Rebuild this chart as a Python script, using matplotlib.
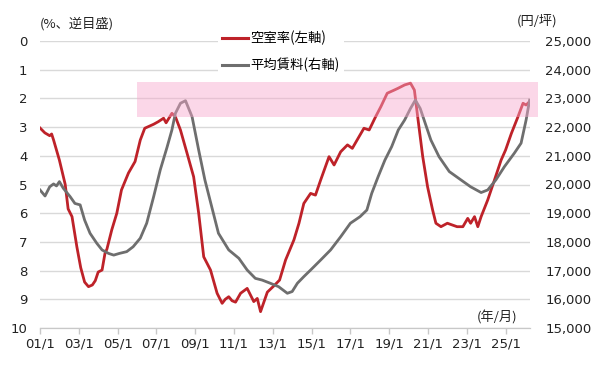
import numpy as np
import matplotlib
matplotlib.use("Agg")
import matplotlib.pyplot as plt
from matplotlib.patches import Rectangle
from matplotlib.lines import Line2D

plt.rcParams['font.family'] = ['DejaVu Sans', 'Noto Sans CJK JP']
jp = ['Noto Sans CJK JP', 'DejaVu Sans']

# 空室率 (%), x = 年 (小数)
vac_x = [2001.0, 2001.25, 2001.5, 2001.6, 2001.7, 2002.0, 2002.3, 2002.45, 2002.65, 2002.9,
         2003.1, 2003.3, 2003.5, 2003.7, 2003.85, 2004.0, 2004.2, 2004.35, 2004.45, 2004.7,
         2004.96, 2005.2, 2005.56, 2005.9, 2006.17, 2006.4, 2006.86, 2007.1, 2007.37, 2007.5,
         2007.8, 2007.98, 2008.24, 2008.58, 2008.92, 2009.18, 2009.44, 2009.79, 2010.13, 2010.39,
         2010.55, 2010.73, 2010.9, 2011.08, 2011.34, 2011.68, 2012.02, 2012.2, 2012.37, 2012.72,
         2013.06, 2013.35, 2013.66, 2014.09, 2014.35, 2014.6, 2014.95, 2015.2, 2015.47, 2015.9,
         2016.16, 2016.5, 2016.85, 2017.1, 2017.45, 2017.7, 2017.97, 2018.3, 2018.57, 2018.9,
         2019.26, 2019.45, 2019.8, 2020.1, 2020.3, 2020.47, 2020.73, 2020.98, 2021.24, 2021.41,
         2021.67, 2022.0, 2022.5, 2022.8, 2023.05, 2023.2, 2023.4, 2023.57, 2023.74, 2024.08,
         2024.43, 2024.77, 2025.0, 2025.3, 2025.64, 2025.9, 2026.06, 2026.24]
vac_y = [3.03, 3.2, 3.3, 3.24, 3.45, 4.15, 5.0, 5.85, 6.12, 7.17,
         7.9, 8.4, 8.56, 8.5, 8.35, 8.05, 7.98, 7.4, 7.25, 6.58,
         6.0, 5.19, 4.6, 4.2, 3.45, 3.04, 2.9, 2.81, 2.69, 2.85,
         2.52, 2.64, 3.1, 3.91, 4.73, 6.0, 7.52, 7.98, 8.79, 9.14,
         9.0, 8.91, 9.05, 9.1, 8.79, 8.62, 9.08, 8.97, 9.43, 8.75,
         8.53, 8.33, 7.63, 6.93, 6.35, 5.66, 5.31, 5.37, 4.84, 4.03,
         4.32, 3.86, 3.62, 3.74, 3.33, 3.04, 3.1, 2.64, 2.29, 1.82,
         1.71, 1.65, 1.53, 1.47, 1.71, 2.64, 4.03, 5.08, 5.89, 6.35,
         6.47, 6.35, 6.47, 6.47, 6.18, 6.35, 6.12, 6.47, 6.12, 5.54,
         4.84, 4.15, 3.8, 3.22, 2.64, 2.17, 2.23, 2.11]

# 平均賃料 (円/坪)
rent_x = [2001.0, 2001.26, 2001.5, 2001.7, 2001.85, 2002.0, 2002.2, 2002.55, 2002.8, 2003.07,
          2003.3, 2003.58, 2003.93, 2004.2, 2004.53, 2004.8, 2005.1, 2005.47, 2005.8, 2006.17,
          2006.5, 2006.86, 2007.2, 2007.55, 2007.8, 2007.98, 2008.24, 2008.5, 2008.84, 2009.18,
          2009.5, 2009.85, 2010.2, 2010.73, 2011.25, 2011.68, 2012.1, 2012.45, 2012.87, 2013.3,
          2013.75, 2014.0, 2014.27, 2014.6, 2014.95, 2015.47, 2015.98, 2016.5, 2017.0, 2017.5,
          2017.85, 2018.1, 2018.43, 2018.78, 2019.13, 2019.47, 2019.8, 2020.1, 2020.35, 2020.6,
          2020.8, 2021.15, 2021.57, 2022.1, 2022.7, 2023.2, 2023.74, 2024.08, 2024.5, 2024.94,
          2025.45, 2025.8, 2026.06, 2026.24]
rent_y = [19810, 19600, 19920, 20020, 19950, 20100, 19870, 19580, 19340, 19290,
          18760, 18300, 17950, 17720, 17600, 17540, 17600, 17660, 17830, 18130,
          18650, 19580, 20510, 21300, 21900, 22480, 22830, 22920, 22360, 21200,
          20160, 19230, 18300, 17720, 17430, 17020, 16730, 16670, 16560, 16440,
          16210, 16270, 16560, 16790, 17020, 17370, 17720, 18180, 18650, 18880,
          19110, 19690, 20270, 20850, 21320, 21900, 22250, 22650, 22940, 22650,
          22250, 21550, 20970, 20450, 20160, 19920, 19720, 19810, 20160, 20620,
          21090, 21440, 22250, 22940]

tick_years = list(range(2001, 2026, 2))
tick_labels = ['%02d/1' % (y % 100) for y in tick_years]

red = '#BE2229'
gray = '#6E6E6E'

fig = plt.figure(figsize=(6, 3.75), dpi=100)
ax = fig.add_axes([40/600, 1-328/375, 490/600, 287/375])
ax2 = ax.twinx()

ax.plot(vac_x, vac_y, color=red, lw=2.0, label='空室率(左軸)')
ax2.plot(rent_x, rent_y, color=gray, lw=2.0, label='平均賃料(右軸)')

ax.set_xlim(2001, 2026.26)
ax.set_ylim(10, 0)
ax2.set_ylim(15000, 25000)

ax.set_yticks(range(0, 11))
ax2.set_yticks(range(15000, 25001, 1000))
ax2.set_yticklabels(['{:,}'.format(v) for v in range(15000, 25001, 1000)])
ax.set_xticks(tick_years)
ax.set_xticklabels(tick_labels)

ax.grid(axis='y', color='#D9D9D9', lw=1)
ax.set_axisbelow(True)
for a in (ax, ax2):
    for s in ['top', 'left', 'right']:
        a.spines[s].set_visible(False)
    a.spines['bottom'].set_color('#C8C8C8')
ax.tick_params(axis='y', length=0, pad=9, labelsize=9.5, colors='#222222')
ax2.tick_params(axis='y', length=0, pad=11, labelsize=9.5, colors='#222222')
ax.tick_params(axis='x', length=4, width=1, color='#C8C8C8', pad=3, labelsize=9.5,
               labelcolor='#222222')

# 網掛け
band = Rectangle((2006.0, 1.43), 2026.67 - 2006.0, 2.65 - 1.43, transform=ax.transData,
                 facecolor='#F8A8CC', alpha=0.45, edgecolor='none', clip_on=False, zorder=10)
ax2.add_patch(band)

handles = [Line2D([], [], color=red, lw=2.2), Line2D([], [], color=gray, lw=2.2)]
leg = ax2.legend(handles, ['空室率(左軸)', '平均賃料(右軸)'], loc='upper left',
                 bbox_to_anchor=(211/600, 1-20/375), bbox_transform=fig.transFigure,
                 prop={'family': jp, 'size': 9.6}, frameon=True, facecolor='white',
                 edgecolor='none', framealpha=1, fancybox=False, borderpad=0.3,
                 handlelength=1.95, handletextpad=0.2, labelspacing=0.95)
leg.set_zorder(20)

fig.text(40/600, 1-24/375, '(%、逆目盛)', family=jp, fontsize=9.5, va='center',
         color='#222222')
fig.text(517/600, 1-21/375, '(円/坪)', family=jp, fontsize=9.5, va='center',
         color='#222222')
fig.text(477/600, 1-318/375, '(年/月)', family=jp, fontsize=9.5, va='center',
         color='#222222')

fig.savefig('out.png', dpi=100)
